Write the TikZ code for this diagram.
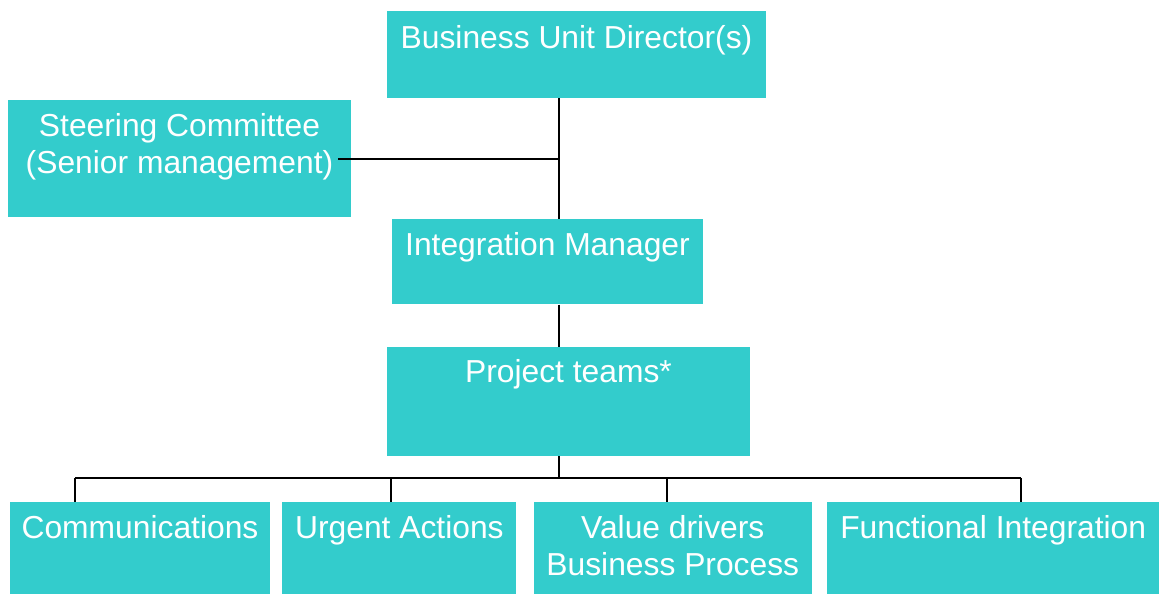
\documentclass[tikz,border=0pt]{standalone}
\usepackage{fontspec}
\setmainfont{Liberation Sans}
\usetikzlibrary{positioning}
\definecolor{boxcyan}{RGB}{51,204,204}
\tikzset{
  unit/.style={fill=boxcyan, inner sep=0pt},
  lbl/.style={anchor=base, yshift=-36pt, text=white, align=center, inner sep=0pt,
    font=\fontsize{31.8}{37}\selectfont},
  link/.style={draw=black, line width=2pt},
}
\begin{document}
\begin{tikzpicture}[x=1pt, y=-1pt]
  \useasboundingbox (0,0) rectangle (1160,594);

  % top of the chart
  \node[unit, minimum width=379pt, minimum height=87pt,
        label={[lbl, yshift=-2pt]north:Business Unit Director(s)}] (bud) at (576.5,54.5) {};
  \node[unit, minimum width=343pt, minimum height=117pt,
        label={[lbl, yshift=-38pt]north:Steering Committee\\(Senior management)}] (steer) at (179.5,158.5) {};
  \node[unit, minimum width=311pt, minimum height=85pt, below=121pt of bud, xshift=-29pt,
        label={[lbl]north:Integration Manager}] (im) {};
  \node[unit, minimum width=363pt, minimum height=109pt, below=42pt of im, xshift=21pt,
        label={[lbl]north:Project teams*}] (pt) {};

  % the four teams
  \node[unit, minimum width=260pt, minimum height=92pt,
        label={[lbl, yshift=-1pt]north:Communications}] (comm) at (140,548) {};
  \node[unit, minimum width=234pt, minimum height=92pt, right=12pt of comm,
        label={[lbl, yshift=-1pt]north:Urgent Actions}] (urg) {};
  \node[unit, minimum width=278pt, minimum height=92pt, right=17pt of urg,
        label={[lbl, yshift=-38pt]north:Value drivers\\Business Process}] (val) {};
  \node[unit, minimum width=332pt, minimum height=92pt, right=15pt of val,
        label={[lbl, yshift=-1pt]north:Functional Integration}] (func) {};

  % connectors
  \coordinate (spine) at (559,0);
  \coordinate (bus) at (0,478);
  \draw[link] (bud.south -| spine) -- (im.north -| spine);
  \draw[link] ([xshift=-13pt]steer.east) -- (steer.east -| spine);
  \draw[link] (im.south -| spine) -- (pt.north -| spine);
  \draw[link] (pt.south -| spine) -- (bus -| spine);
  \draw[link] (75,0 |- bus) -- (1021,0 |- bus);
  \foreach \team/\drop in {comm/75, urg/391, val/667, func/1021}
    \draw[link] (\drop,0 |- bus) -- (\drop,0 |- \team.north);
\end{tikzpicture}
\end{document}
